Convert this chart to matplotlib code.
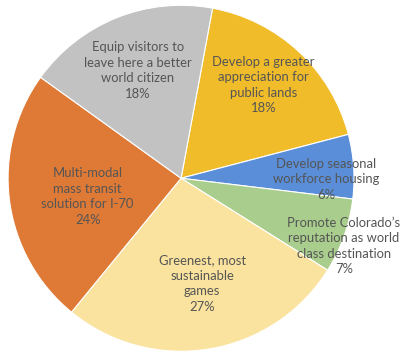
import matplotlib.pyplot as plt
import numpy as np

labels = ["Develop a greater\nappreciation for\npublic lands",
          "Develop seasonal\nworkforce housing",
          "Promote Colorado\u2019s\nreputation as world\nclass destination",
          "Greenest, most\nsustainable\ngames",
          "Multi-modal\nmass transit\nsolution for I-70",
          "Equip visitors to\nleave here a better\nworld citizen"]
values = [18, 6, 7, 27, 24, 18]
colors = ["#F0BC2A", "#5A8ED8", "#A8CD8C", "#FAE39E", "#DE7A36", "#C2C2C2"]
# radial position of each label (fraction of radius) and small angle nudge
label_r = [0.72, 0.84, 1.02, 0.62, 0.55, 0.67]
label_da = [1.5, -4.3, -3.0, 2.0, 3.5, 0.0]

plt.rcParams['font.family'] = ['Lato', 'DejaVu Sans']
fig = plt.figure(figsize=(4.01, 3.53), dpi=100)
ax = fig.add_axes([0.02, 0.005, 0.863, 0.98])

wedges, _ = ax.pie(values, colors=colors, startangle=79.5, counterclock=False,
                   wedgeprops=dict(edgecolor="white", linewidth=0.8))

for w, lab, v, r, da in zip(wedges, labels, values, label_r, label_da):
    ang = np.deg2rad((w.theta1 + w.theta2) / 2 + da)
    ax.text(r * np.cos(ang), r * np.sin(ang), f"{lab}\n{v}%",
            ha="center", va="center", fontsize=9.4, color="#555555",
            linespacing=1.35)

ax.set_aspect("equal")
ax.set_xlim(-1.0, 1.0)
ax.set_ylim(-1.0, 1.0)
fig.savefig("out.png", dpi=100)
